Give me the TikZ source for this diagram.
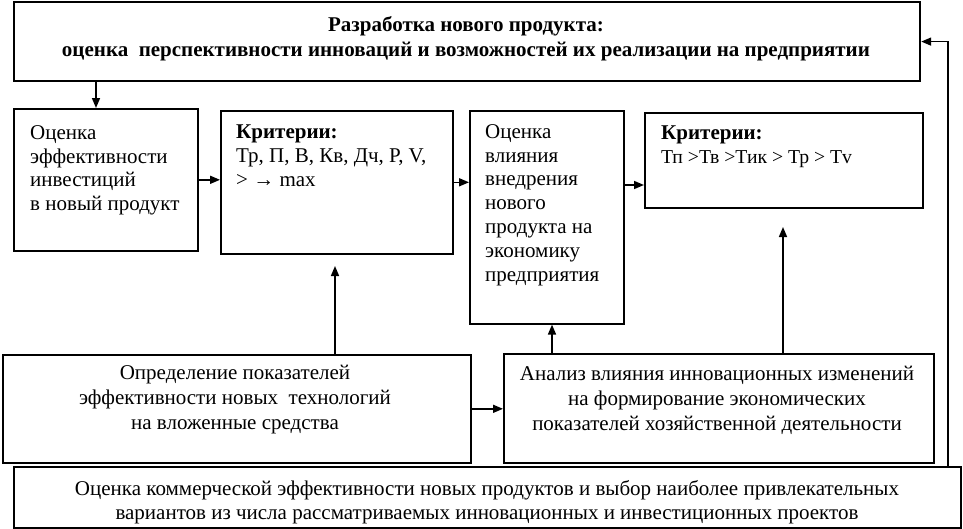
\documentclass[tikz,border=0pt]{standalone}
\usepackage{fontspec}
\setmainfont{Liberation Serif}
\usetikzlibrary{arrows.meta}
\begin{document}
\begin{tikzpicture}[x=1pt,y=-1pt,
  box/.style={draw, line width=1.6pt, inner sep=0pt, anchor=north west},
  txt/.style={inner sep=0pt, font=\fontsize{21}{23.9}\selectfont},
  arr/.style={line width=1.6pt, -{Triangle[length=10pt,width=8pt]}}]
\useasboundingbox (0,0) rectangle (963,528);
% boxes
\node[box, line width=2.2pt, minimum width=906pt, minimum height=79pt] (top) at (13,1) {};
\node[box, minimum width=184pt, minimum height=142pt] (b1) at (13,108) {};
\node[box, minimum width=232pt, minimum height=143pt] (b2) at (220,110) {};
\node[box, minimum width=154pt, minimum height=213pt] (b3) at (469,110) {};
\node[box, minimum width=278pt, minimum height=95pt] (b4) at (644,112) {};
\node[box, minimum width=468pt, minimum height=108pt] (det) at (2,354) {};
\node[box, minimum width=430pt, minimum height=109pt] (an) at (503,353) {};
\node[box, minimum width=947pt, minimum height=61pt] (bot) at (13,466) {};
% texts
\node[txt, align=center, font=\fontsize{21}{25}\selectfont\bfseries] (ttop) at (466,38.5)
  {Разработка нового продукта:\\оценка\ \ перспективности инноваций и возможностей их реализации на предприятии};
\node[txt, align=left, anchor=north west] (t1) at (30,125)
  {Оценка\\эффективности\\инвестиций\\в новый продукт};
\node[txt, align=left, anchor=north west] (t2) at (236,125)
  {\textbf{Критерии:}\\Тр, П, В, Кв, Дч, Р, V,\\> → max};
\node[txt, align=left, anchor=north west] (t3) at (485,124)
  {Оценка\\влияния\\внедрения\\нового\\продукта на\\экономику\\предприятия};
\node[txt, align=left, anchor=north west] (t4) at (661,126)
  {\textbf{Критерии:}\\{\fontsize{19.7}{22}\selectfont Тп >Тв >Тик > Тр > Тv}};
\node[txt, align=center, font=\fontsize{21}{25}\selectfont] (tdet) at (235,400)
  {Определение показателей\\эффективности новых\ \ технологий\\на вложенные средства};
\node[txt, align=center, font=\fontsize{21}{25}\selectfont] (tan) at (717,400)
  {Анализ влияния инновационных изменений\\на формирование экономических\\показателей хозяйственной деятельности};
\node[txt, align=center] (tbot) at (487,502)
  {Оценка коммерческой эффективности новых продуктов и выбор наиболее привлекательных\\вариантов из числа рассматриваемых инновационных и инвестиционных проектов};
% helper coordinates
\coordinate (x96) at (96,0);
\coordinate (y185) at (0,185);
\coordinate (tip1) at (335,266);
\coordinate (x552) at (552,0);
\coordinate (tip2) at (783,227);
\coordinate (fx) at (948,0);
% connectors
\draw[arr] (top.south -| x96) -- (b1.north -| x96);
\draw[arr] (b1.east) -- (b1.east -| b2.west);
\draw[arr] (b2.east) -- (b2.east -| b3.west);
\draw[arr] (b3.east |- y185) -- (b4.west |- y185);
\draw[arr] (det.north -| tip1) -- (tip1);
\draw[arr] (det.east) -- (det.east -| an.west);
\draw[arr] (an.north -| x552) -- (b3.south -| x552);
\draw[arr] (an.north -| tip2) -- (tip2);
\draw[arr] (bot.north -| fx) |- (top.east);
\end{tikzpicture}
\end{document}
